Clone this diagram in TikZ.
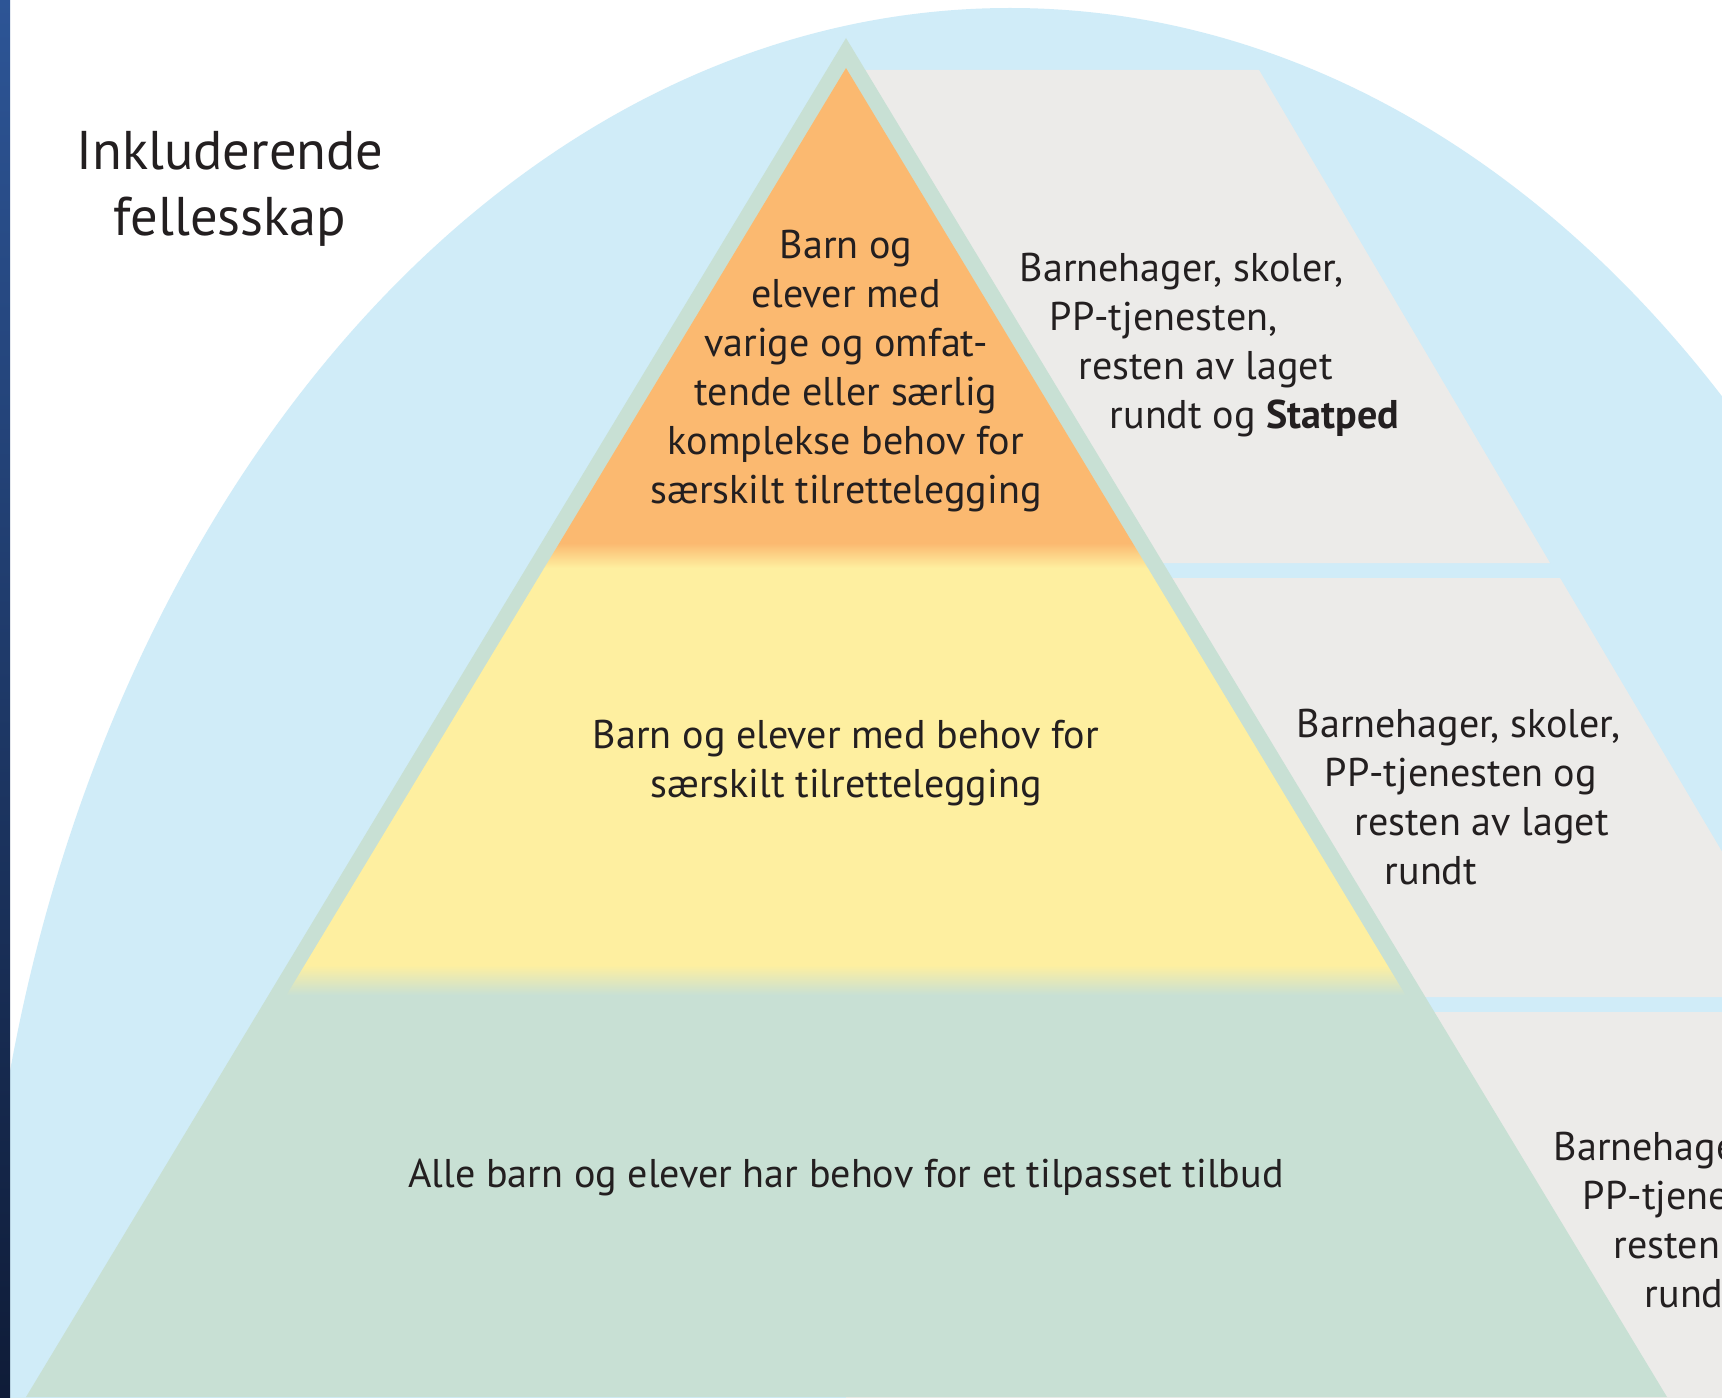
\documentclass[tikz,border=0pt]{standalone}
\usepackage{fontspec}
\setmainfont{PT Sans}

\definecolor{archblue}{HTML}{D0ECF8}
\definecolor{bandgreen}{HTML}{C8E0D4}
\definecolor{toporange}{HTML}{FBB970}
\definecolor{midyellow}{HTML}{FEEFA0}
\definecolor{greyblock}{HTML}{ECEBE9}
\definecolor{txtdark}{HTML}{231F20}
\definecolor{stripA}{HTML}{2D5596}
\definecolor{stripB}{HTML}{0F1C38}

\tikzset{
  body/.style={font=\fontsize{11.4}{13.9}\selectfont, text=txtdark, inner sep=0pt},
  ctext/.style={body, align=center},
  ltext/.style={body, align=left, anchor=west},
}

\begin{document}
\begin{tikzpicture}[x=0.01cm, y=-0.01cm]
    \useasboundingbox (0,0) rectangle (1722,1397);
    \clip (0,0) rectangle (1722,1397);
    \fill[white] (0,0) rectangle (1722,1397);

    % Arch and grey blocks
    \fill[archblue] (1010,1408) ellipse [x radius=1030, y radius=1400];
    \fill[greyblock] (846,70) -- (1259,70) -- (1550,563) -- (846,563) -- cycle;
    \fill[greyblock] (846,578) -- (1560,578) -- (1808,997) -- (846,997) -- cycle;
    \fill[greyblock] (846,1012) -- (1730,1012) -- (1730,1400) -- (846,1400) -- cycle;

    % Pyramid
    \fill[bandgreen] (846,38) -- (1667,1397) -- (26,1397) -- cycle;
    \begin{scope}
        \clip (846,68) -- (1648,1397) -- (44,1397) -- cycle;
        \fill[toporange] (0,60) rectangle (1722,543);
        \shade[top color=toporange, bottom color=midyellow] (0,543) rectangle (1722,568);
        \fill[midyellow] (0,568) rectangle (1722,965);
        \shade[top color=midyellow, bottom color=bandgreen] (0,965) rectangle (1722,995);
    \end{scope}
    \shade[top color=stripA, bottom color=stripB] (0,0) rectangle (10,1397);

    % Texts
    \node[font=\fontsize{15.5}{18.8}\selectfont, text=txtdark, align=center] (title) at (230,189) {Inkluderende\\fellesskap};
    \node[ctext] (top) at (846,371) {Barn og\\elever med\\varige og omfat-\\tende eller særlig\\komplekse behov for\\særskilt tilrettelegging};
    \node[ctext] (mid) at (846,763) {Barn og elever med behov for\\særskilt tilrettelegging};
    \node[ctext] (base) at (846,1177) {Alle barn og elever har behov for et tilpasset tilbud};

    \node[ltext] (svcA) at (1019,345) {Barnehager, skoler,\\\hspace*{0.3cm}PP-tjenesten,\\\hspace*{0.59cm}resten av laget\\\hspace*{0.9cm}rundt og \textbf{Statped}};
    \node[ltext] (svcB) at (1296,797) {Barnehager, skoler,\\\hspace*{0.28cm}PP-tjenesten og\\\hspace*{0.58cm}resten av laget\\\hspace*{0.88cm}rundt};
    \node[ltext] (svcC) at (1553,1220) {Barnehager, skoler,\\\hspace*{0.29cm}PP-tjenesten og\\\hspace*{0.6cm}resten av laget\\\hspace*{0.91cm}rundt};
\end{tikzpicture}
\end{document}
